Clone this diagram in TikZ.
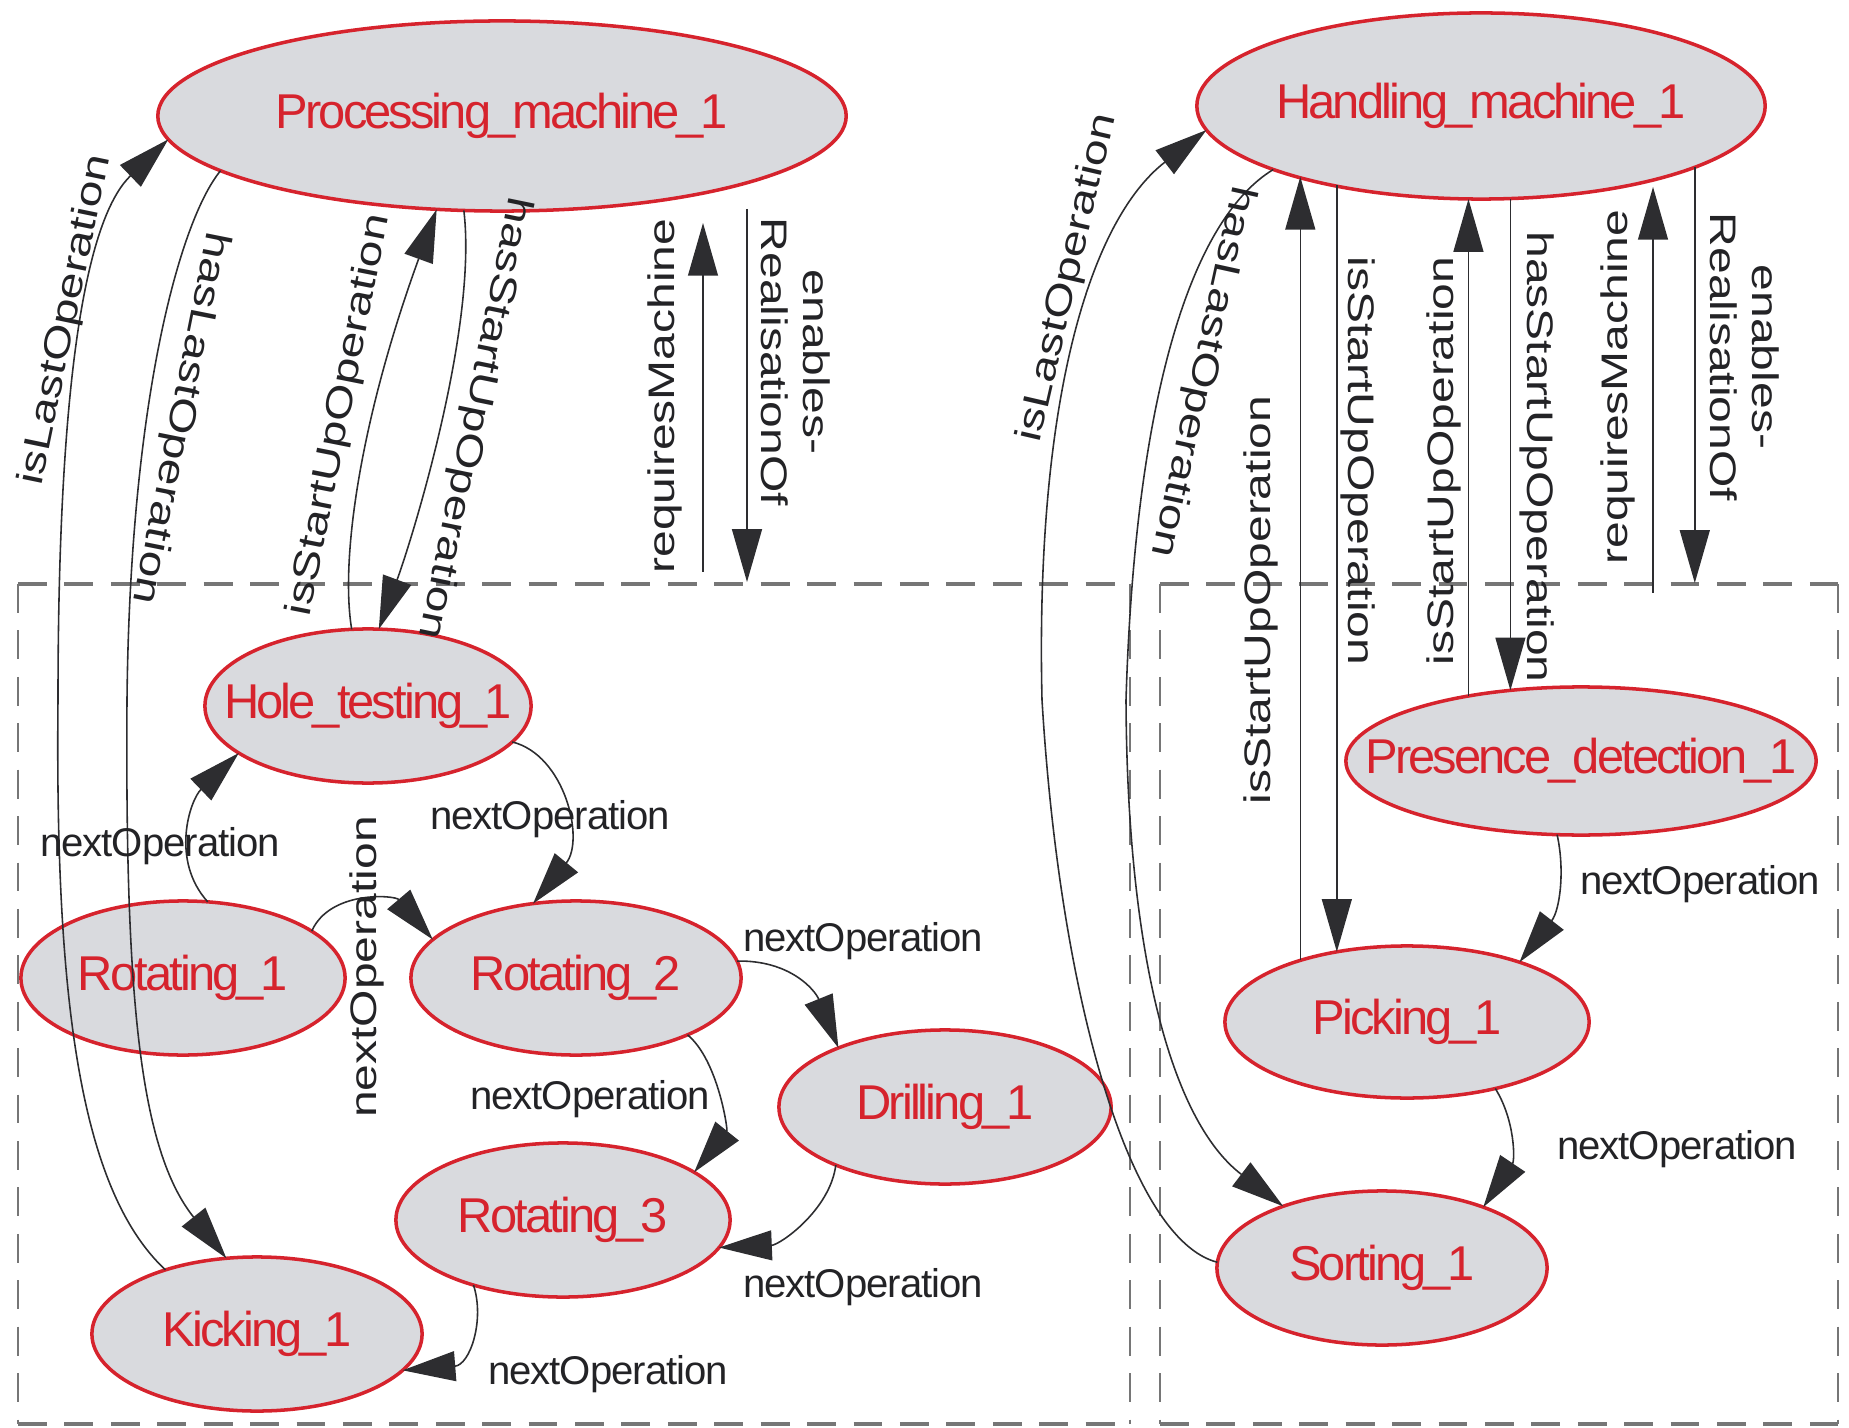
\documentclass[tikz,border=0pt]{standalone}
\usepackage{graphicx}
\usepackage{fontspec}
\setmainfont{Liberation Sans}
\newfontfamily\nodefam[LetterSpace=-6]{Liberation Sans}
\newfontfamily\hlabfam[LetterSpace=-2.5]{Liberation Sans}
\usetikzlibrary{shapes.geometric,arrows.meta}
\definecolor{nodered}{RGB}{214,35,45}
\definecolor{nodefill}{RGB}{217,218,222}
\definecolor{linegray}{RGB}{45,45,48}
\definecolor{labgray}{RGB}{35,35,38}
\definecolor{boxgray}{RGB}{118,118,118}
\tikzset{
  opnode/.style={ellipse, draw=nodered, line width=1pt, fill=nodefill, inner sep=0pt, outer sep=0pt,
    text=nodered, font=\nodefam\fontsize{13.9}{16}\selectfont},
  edge/.style={draw=linegray, line width=0.45pt, -{Triangle[length=15pt,width=8.5pt]}},
  vlab/.style={font=\fontsize{10.5}{12}\selectfont, text=labgray, inner sep=0pt},
  hlab/.style={font=\hlabfam\fontsize{11.4}{13}\selectfont, text=labgray, inner sep=0pt},
  boxh/.style={draw=boxgray, line width=1.3pt, dash pattern=on 8.2pt off 5pt},
  boxv/.style={draw=boxgray, line width=0.7pt, dash pattern=on 8.2pt off 5pt},
}
\newcommand{\nt}[1]{\makebox[0pt][c]{#1}}
\newcommand{\vt}[1]{\scalebox{1.3}[1]{#1}}
\begin{document}
\begin{tikzpicture}[x=0.01cm, y=-0.01cm]
\useasboundingbox (0,0) rectangle (1849,1428);
% group boxes
\draw[boxh] (18,584) -- (1130,584);
\draw[boxh] (18,1424) -- (1130,1424);
\draw[boxv] (18,584) -- (18,1424);
\draw[boxv] (1130,584) -- (1130,1424);
\draw[boxh] (1160,584) -- (1838,584);
\draw[boxh] (1160,1424) -- (1838,1424);
\draw[boxv] (1160,584) -- (1160,1424);
\draw[boxv] (1838,584) -- (1838,1424);
% nodes
\node[opnode, minimum width=6.88cm, minimum height=1.90cm] (PM) at (502,116) {\nt{Processing\_machine\_1}};
\node[opnode, minimum width=5.68cm, minimum height=1.86cm] (HM) at (1481,106) {\nt{Handling\_machine\_1}};
\node[opnode, minimum width=3.26cm, minimum height=1.54cm] (Hole) at (368,706) {\nt{Hole\_testing\_1}};
\node[opnode, minimum width=3.24cm, minimum height=1.54cm] (R1) at (183,978) {\nt{Rotating\_1}};
\node[opnode, minimum width=3.30cm, minimum height=1.54cm] (R2) at (576,978) {\nt{Rotating\_2}};
\node[opnode, minimum width=3.32cm, minimum height=1.54cm] (Drill) at (945,1107) {\nt{Drilling\_1}};
\node[opnode, minimum width=3.34cm, minimum height=1.54cm] (R3) at (563,1220) {\nt{Rotating\_3}};
\node[opnode, minimum width=3.30cm, minimum height=1.54cm] (Kick) at (257,1334) {\nt{Kicking\_1}};
\node[opnode, minimum width=4.70cm, minimum height=1.48cm] (Pres) at (1581,761) {\nt{Presence\_detection\_1}};
\node[opnode, minimum width=3.64cm, minimum height=1.52cm] (Pick) at (1407,1022) {\nt{Picking\_1}};
\node[opnode, minimum width=3.30cm, minimum height=1.54cm] (Sort) at (1382,1268) {\nt{Sorting\_1}};
% free ends
\coordinate (rmA) at (703,572);
\coordinate (rmB) at (703,223);
\coordinate (erA) at (747,209);
\coordinate (erB) at (747,582);
\coordinate (rmC) at (1653,593);
\coordinate (erD) at (1698,583);
% left machine connectors
\draw[edge] (Kick.145) .. controls (80,1190) and (55,1000) .. (58,700) .. controls (58,330) and (95,210) .. (PM.184);
\draw[edge] (PM.191) .. controls (180,220) and (130,400) .. (127,700) .. controls (125,1000) and (140,1150) .. (Kick.112);
\draw[edge] (Hole.102) .. controls (340,560) and (360,420) .. (PM.235);
\draw[edge] (PM.248) .. controls (478,330) and (410,545) .. (Hole.82);
\draw[edge] (rmA) -- (rmB);
\draw[edge] (erA) -- (erB);
% right machine connectors
\draw[edge] (Sort.178) .. controls (1130,1240) and (1060,1000) .. (1042,700) .. controls (1035,400) and (1090,220) .. (HM.185);
\draw[edge] (HM.197) .. controls (1190,220) and (1135,400) .. (1126,700) .. controls (1127,950) and (1170,1120) .. (Sort.148);
\draw[edge] (Pick.150) -- (Pick.150 |- HM.201);
\draw[edge] (Pick.135 |- HM.208) -- (Pick.135);
\draw[edge] (Pres.150) -- (Pres.150 |- HM.south);
\draw[edge] (Pres.135 |- HM.south) -- (Pres.135);
\draw[edge] (rmC) -- (rmC |- HM.-30);
\draw[edge] (HM.-16) -- (HM.-16 |- erD);
% nextOperation connectors
\draw[edge] (R1.72) .. controls (170,860) and (190,800) .. (Hole.200);
\draw[edge] (R1.20) .. controls (330,890) and (395,895) .. (R2.165);
\draw[edge] (Hole.-14) .. controls (565,755) and (585,840) .. (R2.120);
\draw[edge] (R2.6) .. controls (790,960) and (815,990) .. (Drill.151);
\draw[edge] (R2.-27) .. controls (718,1060) and (728,1130) .. (R3.20);
\draw[edge] (Drill.208) .. controls (830,1210) and (780,1245) .. (R3.-10);
\draw[edge] (R3.216) .. controls (485,1320) and (470,1365) .. (Kick.-14);
\draw[edge] (Pres.252) .. controls (1565,870) and (1560,910) .. (Pick.28);
\draw[edge] (Pick.-37) .. controls (1515,1120) and (1515,1160) .. (Sort.31);
% vertical labels
\node[vlab, rotate=78.3] (l1) at (66,320) {\vt{isLastOperation}};
\node[vlab, rotate=-101.3] (l2) at (180,418) {\vt{hasLastOperation}};
\node[vlab, rotate=78.8] (l3) at (340,415) {\vt{isStartUpOperation}};
\node[vlab, rotate=-101.6] (l4) at (474,418) {\vt{hasStartUpOperation}};
\node[vlab, rotate=90] (l5) at (665,396) {\vt{requiresMachine}};
\node[vlab, rotate=-90] (l6) at (791,362) {\vt{\begin{tabular}{@{}c@{}}enables-\\RealisationOf\end{tabular}}};
\node[vlab, rotate=77] (l7) at (1068,278) {\vt{isLastOperation}};
\node[vlab, rotate=-102.4] (l8) at (1202,372) {\vt{hasLastOperation}};
\node[vlab, rotate=90] (l9) at (1261,600) {\vt{isStartUpOperation}};
\node[vlab, rotate=-90] (l10) at (1358,461) {\vt{isStartUpOperation}};
\node[vlab, rotate=90] (l11) at (1444,461) {\vt{isStartUpOperation}};
\node[vlab, rotate=-90] (l12) at (1537,457) {\vt{hasStartUpOperation}};
\node[vlab, rotate=90] (l13) at (1618,387) {\vt{requiresMachine}};
\node[vlab, rotate=-90] (l14) at (1740,357) {\vt{\begin{tabular}{@{}c@{}}enables-\\RealisationOf\end{tabular}}};
\node[vlab, rotate=90] (l15) at (367,967) {\vt{nextOperation}};
% horizontal labels
\node[hlab] (n1) at (160,846) {nextOperation};
\node[hlab] (n2) at (550,819) {nextOperation};
\node[hlab] (n3) at (863,941) {nextOperation};
\node[hlab] (n4) at (590,1099) {nextOperation};
\node[hlab] (n5) at (863,1287) {nextOperation};
\node[hlab] (n6) at (608,1374) {nextOperation};
\node[hlab] (n7) at (1700,884) {nextOperation};
\node[hlab] (n8) at (1677,1149) {nextOperation};
\end{tikzpicture}
\end{document}
